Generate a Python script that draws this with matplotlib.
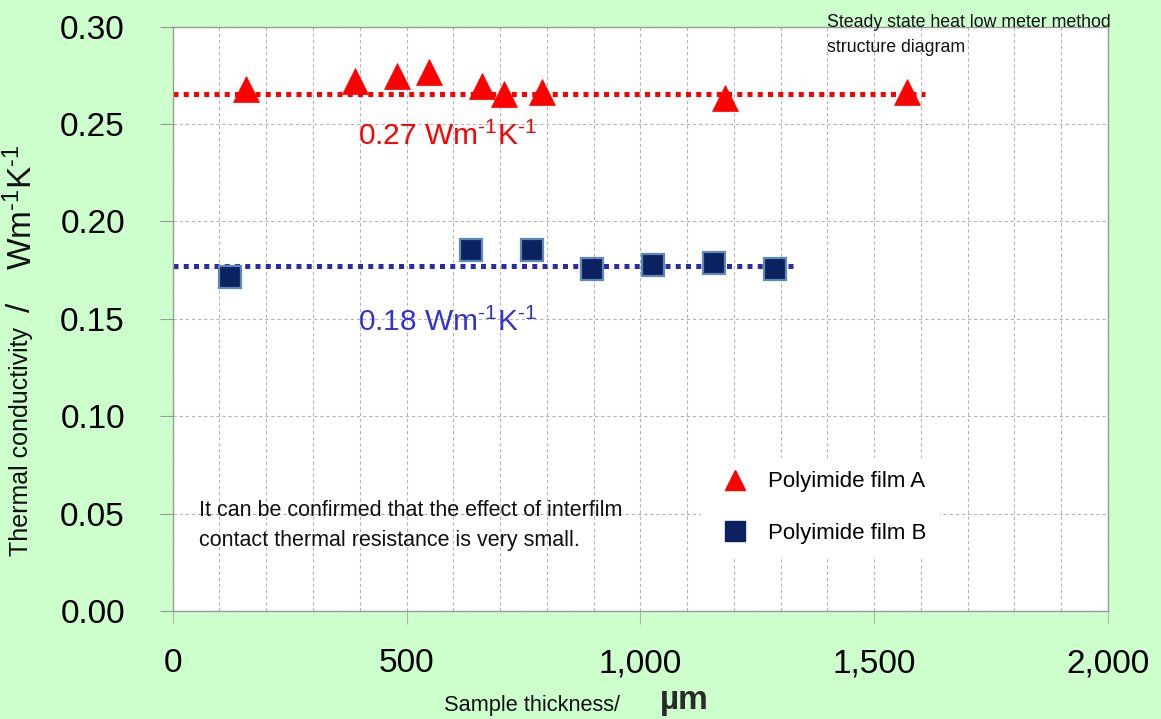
import matplotlib
matplotlib.use("Agg")
import matplotlib.pyplot as plt
from matplotlib.ticker import MultipleLocator, FuncFormatter
from matplotlib.lines import Line2D

# ---- data ----
film_a_x = [157, 390, 480, 548, 661, 708, 790, 1181, 1570]
film_a_y = [0.268, 0.272, 0.2746, 0.2767, 0.2694, 0.2652, 0.2663, 0.2635, 0.2664]
film_b_x = [123, 638, 769, 897, 1027, 1158, 1288]
film_b_y = [0.1717, 0.1855, 0.1855, 0.1756, 0.1775, 0.1786, 0.1755]
avg_a = 0.2655
avg_b = 0.1772
avg_a_span = [0, 1608]
avg_b_span = [0, 1335]
label_a = "Polyimide film A"
label_b = "Polyimide film B"
x_ticks = [0, 500, 1000, 1500, 2000]
y_ticks = [0.00, 0.05, 0.10, 0.15, 0.20, 0.25, 0.30]

REG = ['Liberation Sans', 'DejaVu Sans']

plt.rcParams['font.family'] = REG
plt.rcParams['mathtext.fontset'] = 'custom'
plt.rcParams['mathtext.rm'] = 'Liberation Sans'
plt.rcParams['mathtext.it'] = 'Liberation Sans:italic'
plt.rcParams['mathtext.bf'] = 'Liberation Sans:bold'

W, H = 1161, 719
fig = plt.figure(figsize=(W / 100, H / 100), dpi=100, facecolor='#ccffcc')
L, R, T, B = 172.7, 1108, 26.7, 611
ax = fig.add_axes([L / W, 1 - B / H, (R - L) / W, (B - T) / H])
ax.set_facecolor('white')

ax.set_xlim(0, 2000)
ax.set_ylim(0, 0.30)
ax.set_xticks(x_ticks)
ax.set_yticks(y_ticks)
ax.xaxis.set_minor_locator(MultipleLocator(100))
ax.xaxis.set_major_formatter(FuncFormatter(lambda v, p: f"{v:,.0f}"))
ax.yaxis.set_major_formatter(FuncFormatter(lambda v, p: f"{v:.2f}"))

grid_kw = dict(color='#b4b4b4', linewidth=0.8, linestyle=(0, (3, 2.5)))
ax.grid(True, which='major', axis='y', **grid_kw)
ax.grid(True, which='both', axis='x', **grid_kw)
ax.set_axisbelow(True)

for s in ax.spines.values():
    s.set_color('#9a9a9a')
    s.set_linewidth(1.0)

ax.tick_params(axis='y', which='major', length=9.4, width=0.8, color='#9a9a9a',
               pad=25, labelsize=24)
ax.tick_params(axis='x', which='major', length=9, width=0.8, color='#b4b4b4',
               pad=18, labelsize=24)
ax.tick_params(axis='x', which='minor', length=0)

# average lines
ax.plot(avg_a_span, [avg_a, avg_a], color='#ff0000', linewidth=3.6,
        linestyle=(0, (1.0, 1.05)), dash_capstyle='butt', zorder=2)
ax.plot(avg_b_span, [avg_b, avg_b], color='#2b2ba6', linewidth=3.6,
        linestyle=(0, (1.0, 1.05)), dash_capstyle='butt', zorder=2)

# markers
ax.plot(film_a_x, film_a_y, linestyle='none', marker='^', markersize=18.5,
        color='#ff0000', markeredgecolor='#ff0000', markeredgewidth=0.5, zorder=3)
ax.plot(film_b_x, film_b_y, linestyle='none', marker='s', markersize=16,
        markerfacecolor='#0b2160', markeredgecolor='#5f8ab8', markeredgewidth=1.6, zorder=3)

# value annotations
ax.text(396, 0.2393, r"0.27 Wm$^{\text{-1}}$K$^{\text{-1}}$", color='#ff0000',
        fontsize=21.5, va='baseline', ha='left', family=REG)
ax.text(396, 0.1438, r"0.18 Wm$^{\text{-1}}$K$^{\text{-1}}$", color='#3333cc',
        fontsize=21.5, va='baseline', ha='left', family=REG)

# legend
h_a = Line2D([], [], linestyle='none', marker='^', markersize=14.5, color='#ff0000')
h_b = Line2D([], [], linestyle='none', marker='s', markersize=14,
             markerfacecolor='#0b2160', markeredgecolor='#0b2160')
leg = ax.legend([h_a, h_b], [label_a, label_b], loc='upper left',
                bbox_to_anchor=((700.7 - L) / (R - L), (B - 458) / (B - T)),
                frameon=True, facecolor='white', edgecolor='none', framealpha=1.0,
                fancybox=False, borderpad=0.6, handlelength=1.9, handletextpad=0.54,
                labelspacing=1.38, borderaxespad=0, numpoints=1,
                prop={'family': REG, 'size': 16})

# notes
def ftext(px, py, s, **kw):
    fig.text(px / W, 1 - py / H, s, **kw)

ftext(199, 516, "It can be confirmed that the effect of interfilm", fontsize=15.5,
      family=REG, va='baseline', ha='left', color='#111111')
ftext(199, 546, "contact thermal resistance is very small.", fontsize=15.5,
      family=REG, va='baseline', ha='left', color='#111111')
ftext(827, 27, "Steady state heat low meter method", fontsize=12.8,
      family=REG, va='baseline', ha='left', color='#111111')
ftext(827, 52, "structure diagram", fontsize=12.8,
      family=REG, va='baseline', ha='left', color='#111111')

# axis labels
ftext(21, 442, "Thermal conductivity", fontsize=18, rotation=90,
      ha='center', va='center', family=REG, color='#111111')
ftext(22, 307, "/", fontsize=24, rotation=90, ha='center', va='center',
      family=REG, color='#111111')
ftext(22, 207, r"Wm$^{\text{-1}}$K$^{\text{-1}}$", fontsize=24, rotation=90,
      ha='center', va='center', family=REG, color='#111111')
ftext(444, 711, "Sample thickness/", fontsize=15.7, family=REG,
      ha='left', va='baseline', color='#111111')
ftext(660, 709, "\u00b5m", fontsize=24, family=REG, weight='bold',
      ha='left', va='baseline', color='#2a2a2a')

fig.savefig("out.png", dpi=100, facecolor=fig.get_facecolor())
